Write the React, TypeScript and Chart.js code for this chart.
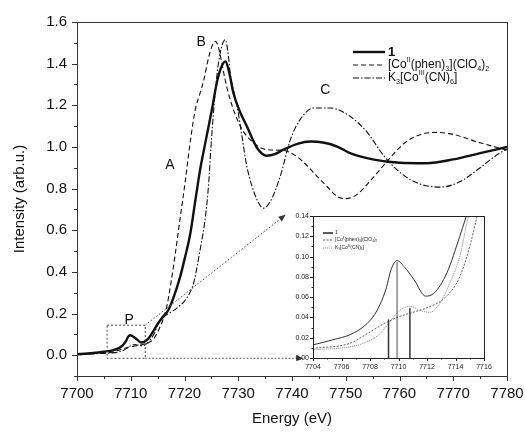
import React, { useEffect, useRef } from 'react';
import { Chart, registerables } from 'chart.js';

Chart.register(...registerables);

const FONT = "'Liberation Sans', Arial, sans-serif";

// Series "1"
const energy1 = [7700, 7702, 7704, 7705.4, 7706.6, 7707.8, 7708.5, 7709.1, 7709.5, 7709.9, 7710.4, 7711.1, 7711.9, 7712.5, 7713.4, 7714.3, 7715, 7716, 7717, 7718, 7719.2, 7720, 7721.1, 7722, 7722.9, 7723.8, 7725.1, 7726, 7726.8, 7727.6, 7728.3, 7729.1, 7730.3, 7731.6, 7733.5, 7735.3, 7736.8, 7738.4, 7741, 7743.4, 7746, 7748.4, 7750.8, 7755, 7760, 7765, 7770, 7775, 7780];
const intensity1 = [0.005, 0.008, 0.013, 0.018, 0.023, 0.034, 0.047, 0.067, 0.088, 0.096, 0.09, 0.077, 0.061, 0.064, 0.084, 0.12, 0.15, 0.185, 0.217, 0.28, 0.377, 0.46, 0.587, 0.74, 0.89, 1.01, 1.18, 1.307, 1.38, 1.411, 1.36, 1.259, 1.17, 1.099, 0.995, 0.958, 0.965, 0.987, 1.015, 1.026, 1.02, 1.002, 0.97, 0.94, 0.924, 0.922, 0.94, 0.97, 1.0];

// [Co(II)(phen)3](ClO4)2
const energyPhen = [7700, 7702, 7704, 7706.6, 7707.8, 7709, 7709.9, 7711, 7711.9, 7713.3, 7714.3, 7715, 7715.5, 7716, 7716.7, 7717.5, 7718.3, 7719.2, 7720.1, 7721.1, 7722, 7722.8, 7723.6, 7724.5, 7725.1, 7725.7, 7726.2, 7726.7, 7727.5, 7728.5, 7730.4, 7732.2, 7735.3, 7738.4, 7740.9, 7742.8, 7744.7, 7746.5, 7748.4, 7750, 7752, 7755, 7758, 7761, 7764, 7767, 7770, 7775, 7780];
const intensityPhen = [0.003, 0.006, 0.0095, 0.0145, 0.024, 0.034, 0.04, 0.045, 0.049, 0.06, 0.08, 0.11, 0.139, 0.17, 0.233, 0.35, 0.49, 0.66, 0.827, 1.03, 1.179, 1.25, 1.323, 1.43, 1.483, 1.507, 1.49, 1.435, 1.33, 1.227, 1.099, 1.035, 0.987, 0.983, 0.954, 0.91, 0.858, 0.81, 0.762, 0.752, 0.77, 0.85, 0.94, 1.02, 1.06, 1.07, 1.06, 1.02, 0.985];

// K3[Co(III)(CN)6]
const energyCN = [7700, 7702, 7704, 7706.6, 7707.8, 7708.7, 7709.4, 7710.1, 7710.8, 7711.5, 7712.2, 7712.9, 7713.6, 7714.3, 7714.9, 7716, 7717, 7718, 7719, 7720, 7721, 7721.7, 7722.9, 7723.9, 7724.5, 7724.9, 7725.5, 7726.2, 7726.9, 7727.6, 7728.2, 7728.5, 7729.8, 7730.7, 7731.6, 7733.5, 7734.7, 7736, 7737.8, 7739.7, 7741.5, 7744, 7747.1, 7750.8, 7754, 7757, 7760, 7763, 7767.6, 7771, 7775, 7778, 7780];
const intensityCN = [0.002, 0.005, 0.008, 0.011, 0.016, 0.024, 0.036, 0.047, 0.051, 0.047, 0.045, 0.054, 0.074, 0.1, 0.139, 0.18, 0.2, 0.215, 0.235, 0.26, 0.3, 0.346, 0.506, 0.666, 0.826, 0.99, 1.2, 1.38, 1.48, 1.515, 1.43, 1.355, 1.195, 1.05, 0.906, 0.746, 0.706, 0.74, 0.858, 1.035, 1.131, 1.187, 1.187, 1.147, 1.07, 0.96, 0.88, 0.83, 0.807, 0.83, 0.9, 0.96, 0.99];

// Pre-edge marker bars (inset)
const barEnergies = [7709.3, 7709.9, 7710.8];
const barHeights = [0.038, 0.095, 0.049];
const barColors = ['#333', '#888', '#333'];

// Tick labels
const xTicks = [7700, 7710, 7720, 7730, 7740, 7750, 7760, 7770, 7780];
const yTicks = [0.0, 0.2, 0.4, 0.6, 0.8, 1.0, 1.2, 1.4, 1.6];
const insetXTicks = [7704, 7706, 7708, 7710, 7712, 7714, 7716];
const insetYTicks = [0.0, 0.02, 0.04, 0.06, 0.08, 0.1, 0.12, 0.14];

// Feature labels
const featureText = ['A', 'B', 'C', 'P'];
const featureE = [7717.3, 7723.1, 7746.2, 7709.7];
const featureI = [0.914, 1.501, 1.275, 0.169];

// Pre-edge zoom box
const boxE = [7705.6, 7712.7];
const boxI = [-0.015, 0.144];
const arrowTipE = [7738.8, 7742.1];
const arrowTipI = [0.674, -0.015];

type Part = { t: string; sub?: boolean; sup?: boolean };
const legendPhen: Part[] = [{ t: '[Co' }, { t: 'II', sup: true }, { t: '(phen)' }, { t: '3', sub: true }, { t: '](ClO' }, { t: '4', sub: true }, { t: ')' }, { t: '2', sub: true }];
const legendCN: Part[] = [{ t: 'K' }, { t: '3', sub: true }, { t: '[Co' }, { t: 'III', sup: true }, { t: '(CN)' }, { t: '6', sub: true }, { t: ']' }];
const legend1: Part[] = [{ t: '1' }];

const DASH_PHEN = [5, 3];
const DASH_CN = [6, 2, 1.5, 2];

const pts = (xs: number[], ys: number[]) => xs.map((x, i) => ({ x, y: ys[i] }));

function drawRich(ctx: CanvasRenderingContext2D, parts: Part[], x: number, y: number, size: number, bold = false) {
  let cx = x;
  ctx.textAlign = 'left';
  ctx.textBaseline = 'middle';
  for (const p of parts) {
    const s = p.sub || p.sup ? size * 0.6 : size;
    ctx.font = `${bold ? 'bold ' : ''}${s}px ${FONT}`;
    const dy = p.sub ? size * 0.3 : p.sup ? -size * 0.38 : 0;
    ctx.fillText(p.t, cx, y + dy);
    cx += ctx.measureText(p.t).width;
  }
}

function arrow(ctx: CanvasRenderingContext2D, x1: number, y1: number, x2: number, y2: number) {
  ctx.save();
  ctx.setLineDash([1.5, 2]);
  ctx.lineWidth = 1;
  ctx.beginPath();
  ctx.moveTo(x1, y1);
  ctx.lineTo(x2, y2);
  ctx.stroke();
  ctx.setLineDash([]);
  const a = Math.atan2(y2 - y1, x2 - x1);
  const L = 7, W = 3;
  ctx.beginPath();
  ctx.moveTo(x2, y2);
  ctx.lineTo(x2 - L * Math.cos(a) + W * Math.sin(a), y2 - L * Math.sin(a) - W * Math.cos(a));
  ctx.lineTo(x2 - L * Math.cos(a) - W * Math.sin(a), y2 - L * Math.sin(a) + W * Math.cos(a));
  ctx.closePath();
  ctx.fill();
  ctx.restore();
}

const mainPlugin = {
  id: 'mainDecor',
  afterDraw(chart: any) {
    const { ctx, chartArea: ca, scales } = chart;
    const xs = scales.x, ys = scales.y;
    ctx.save();
    ctx.strokeStyle = '#333';
    ctx.fillStyle = '#222';
    ctx.lineWidth = 1;
    ctx.strokeRect(Math.round(ca.left) + 0.5, Math.round(ca.top) + 0.5, Math.round(ca.right - ca.left), Math.round(ca.bottom - ca.top));
    // x ticks
    for (let v = 7700; v <= 7780; v += 5) {
      const px = Math.round(xs.getPixelForValue(v)) + 0.5;
      const len = v % 10 === 0 ? 5 : 3;
      ctx.beginPath();
      ctx.moveTo(px, ca.bottom);
      ctx.lineTo(px, ca.bottom + len);
      ctx.stroke();
    }
    // y ticks
    for (let i = -1; i <= 16; i++) {
      const v = i / 10;
      const py = Math.round(ys.getPixelForValue(v)) + 0.5;
      const len = i % 2 === 0 ? 5 : 3;
      ctx.beginPath();
      ctx.moveTo(ca.left, py);
      ctx.lineTo(ca.left - len, py);
      ctx.stroke();
    }
    // zoom box
    ctx.save();
    ctx.setLineDash([2, 2]);
    ctx.strokeStyle = '#444';
    const bx1 = xs.getPixelForValue(boxE[0]), bx2 = xs.getPixelForValue(boxE[1]);
    const by1 = ys.getPixelForValue(boxI[1]), by2 = ys.getPixelForValue(boxI[0]);
    ctx.strokeRect(bx1, by1, bx2 - bx1, by2 - by1);
    ctx.restore();
    ctx.strokeStyle = '#444';
    ctx.fillStyle = '#333';
    arrow(ctx, bx2, by1, xs.getPixelForValue(arrowTipE[0]), ys.getPixelForValue(arrowTipI[0]));
    arrow(ctx, bx2, by2, xs.getPixelForValue(arrowTipE[1]), ys.getPixelForValue(arrowTipI[1]));
    // feature labels
    ctx.fillStyle = '#111';
    ctx.font = `14px ${FONT}`;
    ctx.textAlign = 'center';
    ctx.textBaseline = 'middle';
    featureText.forEach((t, i) => {
      ctx.fillText(t, xs.getPixelForValue(featureE[i]), ys.getPixelForValue(featureI[i]));
    });
    // legend
    const lx = ca.right - 154;
    const rows = [ca.top + 30, ca.top + 43, ca.top + 56];
    const styles = [
      { w: 2.4, d: [] as number[] },
      { w: 1.1, d: DASH_PHEN },
      { w: 1.1, d: DASH_CN },
    ];
    const labels = [legend1, legendPhen, legendCN];
    rows.forEach((ry, i) => {
      ctx.save();
      ctx.strokeStyle = '#111';
      ctx.lineWidth = styles[i].w;
      ctx.setLineDash(styles[i].d);
      ctx.beginPath();
      ctx.moveTo(lx, ry);
      ctx.lineTo(lx + 32, ry);
      ctx.stroke();
      ctx.restore();
      ctx.fillStyle = '#111';
      drawRich(ctx, labels[i], lx + 35, ry, i === 0 ? 13 : 12, i === 0);
    });
    ctx.restore();
  },
};

const insetPlugin = {
  id: 'insetDecor',
  beforeDraw(chart: any) {
    const { ctx, chartArea: ca } = chart;
    ctx.save();
    ctx.fillStyle = '#fff';
    ctx.fillRect(ca.left, ca.top, ca.right - ca.left, ca.bottom - ca.top);
    ctx.restore();
  },
  afterDraw(chart: any) {
    const { ctx, chartArea: ca, scales } = chart;
    const xs = scales.x, ys = scales.y;
    ctx.save();
    ctx.strokeStyle = '#222';
    ctx.lineWidth = 1;
    ctx.strokeRect(Math.round(ca.left) + 0.5, Math.round(ca.top) + 0.5, Math.round(ca.right - ca.left), Math.round(ca.bottom - ca.top));
    for (let v = 7704; v <= 7716; v += 1) {
      const px = Math.round(xs.getPixelForValue(v)) + 0.5;
      const len = v % 2 === 0 ? 3 : 1.5;
      ctx.beginPath();
      ctx.moveTo(px, ca.bottom);
      ctx.lineTo(px, ca.bottom + len);
      ctx.stroke();
    }
    for (let i = 0; i <= 14; i++) {
      const py = Math.round(ys.getPixelForValue(i / 100)) + 0.5;
      const len = i % 2 === 0 ? 3 : 1.5;
      ctx.beginPath();
      ctx.moveTo(ca.left, py);
      ctx.lineTo(ca.left - len, py);
      ctx.stroke();
    }
    // legend
    const lx = ca.left + 10;
    const rows = [ca.top + 17, ca.top + 24, ca.top + 32];
    const styles = [
      { w: 1.6, d: [] as number[], c: '#333' },
      { w: 0.8, d: [2, 1.5], c: '#333' },
      { w: 0.8, d: [1, 1], c: '#777' },
    ];
    const labels = [legend1, legendPhen, legendCN];
    rows.forEach((ry, i) => {
      ctx.save();
      ctx.strokeStyle = styles[i].c;
      ctx.lineWidth = styles[i].w;
      ctx.setLineDash(styles[i].d);
      ctx.beginPath();
      ctx.moveTo(lx, ry);
      ctx.lineTo(lx + 10, ry);
      ctx.stroke();
      ctx.restore();
      ctx.fillStyle = '#222';
      drawRich(ctx, labels[i], lx + 12, ry, 5);
    });
    ctx.restore();
  },
};

export default function App() {
  const mainRef = useRef<HTMLCanvasElement>(null);
  const insetRef = useRef<HTMLCanvasElement>(null);

  useEffect(() => {
    const tickFont = { family: FONT, size: 15, weight: 'normal' };
    const titleFont = { family: FONT, size: 15, weight: 'normal' };
    const main = new Chart(mainRef.current as HTMLCanvasElement, {
      type: 'line',
      data: {
        datasets: [
          { label: '1', data: pts(energy1, intensity1), borderColor: '#111', borderWidth: 2.4, pointRadius: 0, cubicInterpolationMode: 'monotone' },
          { label: 'phen', data: pts(energyPhen, intensityPhen), borderColor: '#111', borderWidth: 1.1, borderDash: DASH_PHEN, pointRadius: 0, cubicInterpolationMode: 'monotone' },
          { label: 'CN', data: pts(energyCN, intensityCN), borderColor: '#111', borderWidth: 1.1, borderDash: DASH_CN, pointRadius: 0, cubicInterpolationMode: 'monotone' },
        ],
      },
      options: {
        animation: false,
        responsive: false,
        maintainAspectRatio: false,
        layout: { padding: { left: 0, right: 18, top: 22, bottom: 0 } },
        plugins: { legend: { display: false }, tooltip: { enabled: false } },
        scales: {
          x: {
            type: 'linear',
            min: 7700,
            max: 7780,
            afterFit: (s: any) => { s.height = 57; s.paddingLeft = 0; s.paddingRight = 0; },
            afterBuildTicks: (s: any) => { s.ticks = xTicks.map((v) => ({ value: v })); },
            grid: { display: false, drawTicks: false },
            border: { display: false },
            ticks: { padding: 9, font: tickFont, color: '#111', maxRotation: 0, autoSkip: false, callback: (v: any) => String(v) },
            title: { display: true, text: 'Energy (eV)', font: titleFont, color: '#111', padding: 5 },
          },
          y: {
            type: 'linear',
            min: -0.1,
            max: 1.6,
            afterFit: (s: any) => { s.width = 77; s.paddingTop = 0; s.paddingBottom = 0; },
            afterBuildTicks: (s: any) => { s.ticks = yTicks.map((v) => ({ value: v })); },
            grid: { display: false, drawTicks: false },
            border: { display: false },
            ticks: { padding: 10, font: tickFont, color: '#111', autoSkip: false, callback: (v: any) => Number(v).toFixed(1) },
            title: { display: true, text: 'Intensity (arb.u.)', font: titleFont, color: '#111', padding: 11 },
          },
        },
      },
      plugins: [mainPlugin],
    } as any);

    const smallFont = { family: FONT, size: 7 };
    const inset = new Chart(insetRef.current as HTMLCanvasElement, {
      type: 'line',
      data: {
        datasets: [
          { label: '1', data: pts(energy1, intensity1), borderColor: '#333', borderWidth: 1, pointRadius: 0, cubicInterpolationMode: 'monotone' },
          { label: 'phen', data: pts(energyPhen, intensityPhen), borderColor: '#333', borderWidth: 0.8, borderDash: [2, 1.5], pointRadius: 0, cubicInterpolationMode: 'monotone' },
          { label: 'CN', data: pts(energyCN, intensityCN), borderColor: '#777', borderWidth: 0.9, borderDash: [1, 1], pointRadius: 0, cubicInterpolationMode: 'monotone' },
          ...barEnergies.map((e, i) => ({
            label: 'bar' + i,
            data: [{ x: e, y: 0 }, { x: e, y: barHeights[i] }],
            borderColor: barColors[i],
            borderWidth: 1.5,
            pointRadius: 0,
          })),
        ],
      },
      options: {
        animation: false,
        responsive: false,
        maintainAspectRatio: false,
        layout: { padding: { left: 0, right: 11, top: 10, bottom: 0 } },
        plugins: { legend: { display: false }, tooltip: { enabled: false } },
        scales: {
          x: {
            type: 'linear',
            min: 7704,
            max: 7716,
            afterFit: (s: any) => { s.height = 20; s.paddingLeft = 0; s.paddingRight = 0; },
            afterBuildTicks: (s: any) => { s.ticks = insetXTicks.map((v) => ({ value: v })); },
            grid: { display: false, drawTicks: false },
            border: { display: false },
            ticks: { padding: 5, font: smallFont, color: '#222', maxRotation: 0, autoSkip: false, callback: (v: any) => String(v) },
          },
          y: {
            type: 'linear',
            min: 0,
            max: 0.14,
            afterFit: (s: any) => { s.width = 33; s.paddingTop = 0; s.paddingBottom = 0; },
            afterBuildTicks: (s: any) => { s.ticks = insetYTicks.map((v) => ({ value: v })); },
            grid: { display: false, drawTicks: false },
            border: { display: false },
            ticks: { padding: 4, font: smallFont, color: '#222', autoSkip: false, callback: (v: any) => Number(v).toFixed(2) },
          },
        },
      },
      plugins: [insetPlugin],
    } as any);

    return () => {
      main.destroy();
      inset.destroy();
    };
  }, []);

  return (
    <div style={{ position: 'absolute', left: 0, top: 0, width: 525, height: 433, background: '#fff' }}>
      <canvas ref={mainRef} width={525} height={433} style={{ position: 'absolute', left: 0, top: 0, display: 'block' }} />
      <canvas ref={insetRef} width={215} height={172} style={{ position: 'absolute', left: 280, top: 206, display: 'block' }} />
    </div>
  );
}
